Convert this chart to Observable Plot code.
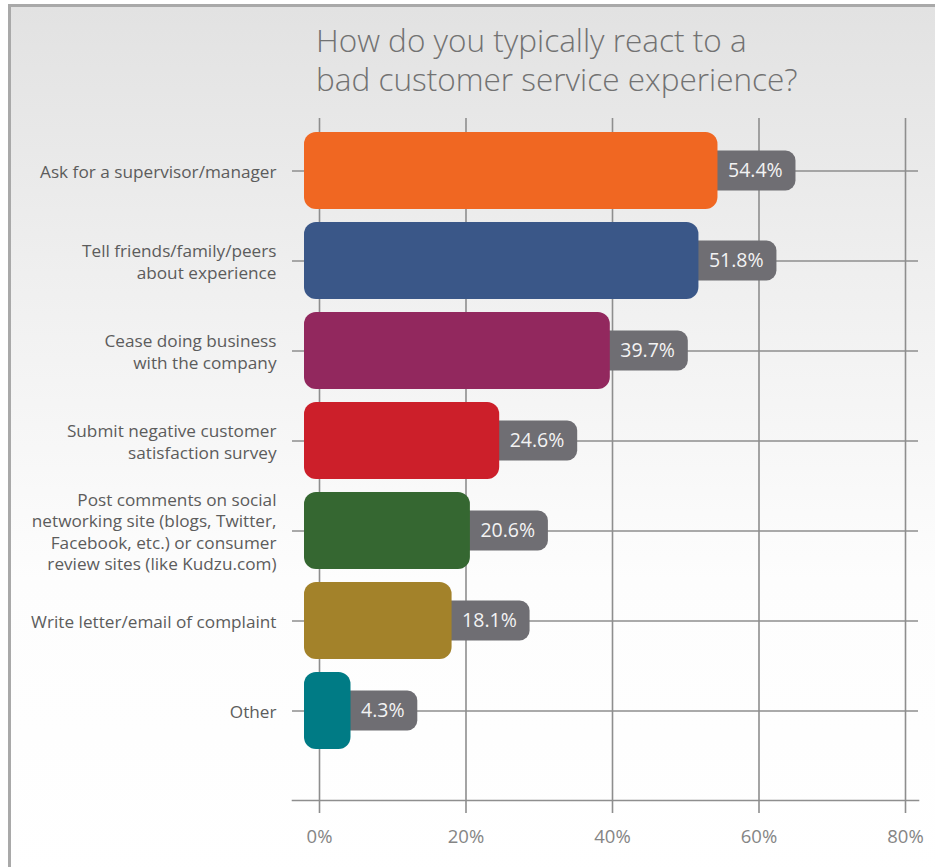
<!DOCTYPE html>
<html>
<head>
<meta charset="utf-8">
<script src="https://cdn.jsdelivr.net/npm/d3@7"></script>
<script src="https://cdn.jsdelivr.net/npm/@observablehq/plot@0.6"></script>
<style>
  html, body { margin: 0; padding: 0; background: #fff; overflow: hidden; }
  #wrap { position: relative; width: 935px; height: 867px; overflow: hidden; }
  #frame {
    position: absolute; left: 8px; top: 4px; right: -20px; bottom: -20px;
    border-left: 3px solid #a9a9a9; border-top: 3px solid #a9a9a9;
    background: linear-gradient(to bottom, #e2e2e2 0%, #f1f1f1 35%, #fdfdfd 65%, #ffffff 100%);
  }
  #title {
    position: relative; height: 115px; box-sizing: border-box;
    padding-left: 316px; padding-top: 20px;
    font-family: "Open Sans", sans-serif; font-weight: 300; font-size: 32px;
    line-height: 39px; color: #727272; white-space: nowrap;
  }
  #title span { display: inline-block; transform: scaleX(0.985); transform-origin: left center; }
  #chart { position: relative; }
</style>
</head>
<body>
<div id="wrap">
  <div id="frame"></div>
  <div id="title"><span>How do you typically react to a<br>bad customer service experience?</span></div>
  <div id="chart"></div>
</div>
<script>
const categories = [
  "Ask for a supervisor/manager",
  "Tell friends/family/peers\nabout experience",
  "Cease doing business\nwith the company",
  "Submit negative customer\nsatisfaction survey",
  "Post comments on social\nnetworking site (blogs, Twitter,\nFacebook, etc.) or consumer\nreview sites (like Kudzu.com)",
  "Write letter/email of complaint",
  "Other"
];
const values = [54.4, 51.8, 39.7, 24.6, 20.6, 18.1, 4.3];
const valueLabels = ["54.4%", "51.8%", "39.7%", "24.6%", "20.6%", "18.1%", "4.3%"];
const barColors = ["#f06722", "#3a5788", "#92285e", "#cc1f2a", "#356731", "#a3822a", "#007b85"];
const xTicks = [0, 20, 40, 60, 80];

const rows = categories.map((c, i) => ({category: c, value: values[i], label: valueLabels[i], color: barColors[i]}));

const xRange = [319, 905];
const pxPerUnit = (xRange[1] - xRange[0]) / (xTicks[xTicks.length - 1] - xTicks[0]);
const gridColor = "#8e8e8e";

const chart = Plot.plot({
  width: 935,
  height: 752,
  marginLeft: 292,
  marginRight: 17,
  marginTop: 3,
  marginBottom: 67,
  style: {background: "transparent", fontFamily: "'Open Sans', sans-serif", overflow: "visible"},
  x: {domain: [0, 80], range: xRange, axis: null, label: null},
  y: {domain: categories, range: [8.2, 642.3], paddingInner: 0.15, paddingOuter: 0.075, axis: null, label: null},
  color: {type: "identity"},
  marks: [
    Plot.gridX(xTicks, {stroke: gridColor, strokeOpacity: 1, strokeWidth: 1.6}),
    Plot.gridY(categories, {stroke: gridColor, strokeOpacity: 1, strokeWidth: 1.6}),
    Plot.frame({anchor: "bottom", stroke: gridColor, strokeWidth: 1.6}),
    Plot.axisX(xTicks, {
      tickSize: 13, tickPadding: 16, stroke: gridColor, strokeWidth: 1.6, fill: "#858585",
      fontSize: 18.5, tickFormat: d => d + "%", label: null
    }),
    Plot.axisY(categories, {
      tickSize: 0, tickPadding: 16, fill: "#5c5c5c", fontSize: 17.2, lineHeight: 1.25, label: null
    }),
    Plot.barX(rows, {
      x1: "value",
      x2: d => d.value + (22 + d.label.length * 11.2) / pxPerUnit,
      y: "category",
      insetLeft: -20, insetTop: 18.5, insetBottom: 18.5, rx: 10,
      fill: "#6f6e73"
    }),
    Plot.barX(rows, {x1: 0, x2: "value", y: "category", fill: "color", insetLeft: -15, rx: 12}),
    Plot.text(rows, {
      x: "value", y: "category", text: "label", dx: 10, textAnchor: "start",
      fill: "#f3f3f3", fontSize: 19.5
    })
  ]
});
document.getElementById("chart").appendChild(chart);
</script>
</body>
</html>
